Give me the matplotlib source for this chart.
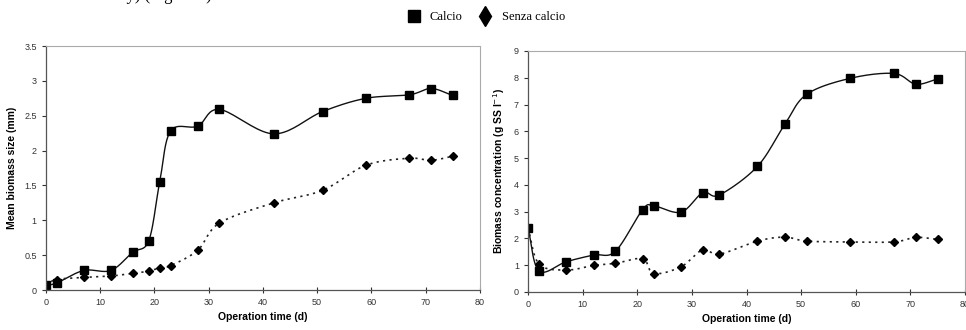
import numpy as np
import matplotlib
matplotlib.use("Agg")
import matplotlib.pyplot as plt
from matplotlib.lines import Line2D

# left panel: mean biomass size (mm)
t_size = [0, 2, 7, 12, 16, 19, 21, 23, 28, 32, 42, 51, 59, 67, 71, 75]
size_calcio = [0.07, 0.10, 0.28, 0.28, 0.54, 0.71, 1.55, 2.28, 2.35, 2.59, 2.24, 2.56, 2.75, 2.80, 2.89, 2.79]
size_senza = [0.07, 0.15, 0.18, 0.20, 0.24, 0.27, 0.32, 0.35, 0.57, 0.96, 1.25, 1.43, 1.79, 1.89, 1.86, 1.92]

# right panel: biomass concentration (g SS/l)
t_conc = [0, 2, 7, 12, 16, 21, 23, 28, 32, 35, 42, 47, 51, 59, 67, 71, 75]
conc_calcio = [2.39, 0.79, 1.13, 1.38, 1.52, 3.08, 3.22, 2.98, 3.71, 3.62, 4.69, 6.26, 7.38, 7.98, 8.16, 7.76, 7.96]
conc_senza = [2.39, 1.05, 0.82, 0.99, 1.07, 1.24, 0.69, 0.94, 1.58, 1.41, 1.90, 2.05, 1.90, 1.87, 1.87, 2.04, 1.96]


def smooth(x, y, n=20):
    # catmull-rom style curve like excel's "smoothed line"
    x = np.asarray(x, float)
    y = np.asarray(y, float)
    px = np.concatenate([[2 * x[0] - x[1]], x, [2 * x[-1] - x[-2]]])
    py = np.concatenate([[2 * y[0] - y[1]], y, [2 * y[-1] - y[-2]]])
    xs, ys = [], []
    for i in range(1, len(px) - 2):
        s = np.linspace(0, 1, n, endpoint=False)
        for p, out in ((px, xs), (py, ys)):
            p0, p1, p2, p3 = p[i - 1], p[i], p[i + 1], p[i + 2]
            out.extend(0.5 * (2 * p1 + (-p0 + p2) * s
                              + (2 * p0 - 5 * p1 + 4 * p2 - p3) * s ** 2
                              + (-p0 + 3 * p1 - 3 * p2 + p3) * s ** 3))
    xs.append(x[-1])
    ys.append(y[-1])
    return xs, ys


plt.rcParams["font.family"] = ["Liberation Sans", "DejaVu Sans"]

fig = plt.figure(figsize=(9.66, 3.3), dpi=100)
ax1 = fig.add_axes([0.0473, 0.1212, 0.4496, 0.7394])
ax2 = fig.add_axes([0.5466, 0.1152, 0.4524, 0.7303])


def panel(ax, t, a, b, ymax, ystep, ylabel):
    sx, sy = smooth(t, a)
    ax.plot(sx, sy, color="#111111", lw=1.0)
    ax.plot(t, a, "s", color="black", ms=5.5)
    sx, sy = smooth(t, b)
    ax.plot(sx, sy, color="#222222", lw=1.2, ls=(0, (1.3, 2.6)))
    ax.plot(t, b, "D", color="black", ms=4.2)
    ax.set_xlim(0, 80)
    ax.set_ylim(0, ymax)
    ax.set_xticks(range(0, 81, 10))
    yt = np.arange(0, ymax + 0.001, ystep)
    ax.set_yticks(yt)
    ax.set_yticklabels(["%g" % v for v in yt])
    ax.tick_params(labelsize=6.5, colors="#333333", length=3, width=0.8)
    ax.tick_params(axis="x", direction="inout", length=4)
    for s in ("top", "right"):
        ax.spines[s].set_color("#aaaaaa")
        ax.spines[s].set_linestyle((0, (1, 1)))
        ax.spines[s].set_linewidth(0.8)
    for s in ("left", "bottom"):
        ax.spines[s].set_color("#555555")
        ax.spines[s].set_linewidth(0.9)
    ax.set_xlabel("Operation time (d)", fontsize=7.5, fontweight="bold", labelpad=4)
    ax.set_ylabel(ylabel, fontsize=7.5, fontweight="bold", labelpad=5)


panel(ax1, t_size, size_calcio, size_senza, 3.5, 0.5, "Mean biomass size (mm)")
panel(ax2, t_conc, conc_calcio, conc_senza, 9, 1, "Biomass concentration (g SS l$^{-1}$)")

handles = [Line2D([], [], marker="s", color="black", ls="none", ms=8),
           Line2D([], [], marker="d", color="black", ls="none", ms=10)]
fig.legend(handles, ["Calcio", "Senza calcio"], loc="center", bbox_to_anchor=(0.5, 0.948),
           ncol=2, frameon=False, handletextpad=0.3, columnspacing=0.8,
           prop={"family": "Liberation Serif", "size": 9})

fig.text(0.125, 1.012, "ry) (Figura 9).", fontsize=12, family="Liberation Serif", va="center")

fig.savefig("out.png", dpi=100)
